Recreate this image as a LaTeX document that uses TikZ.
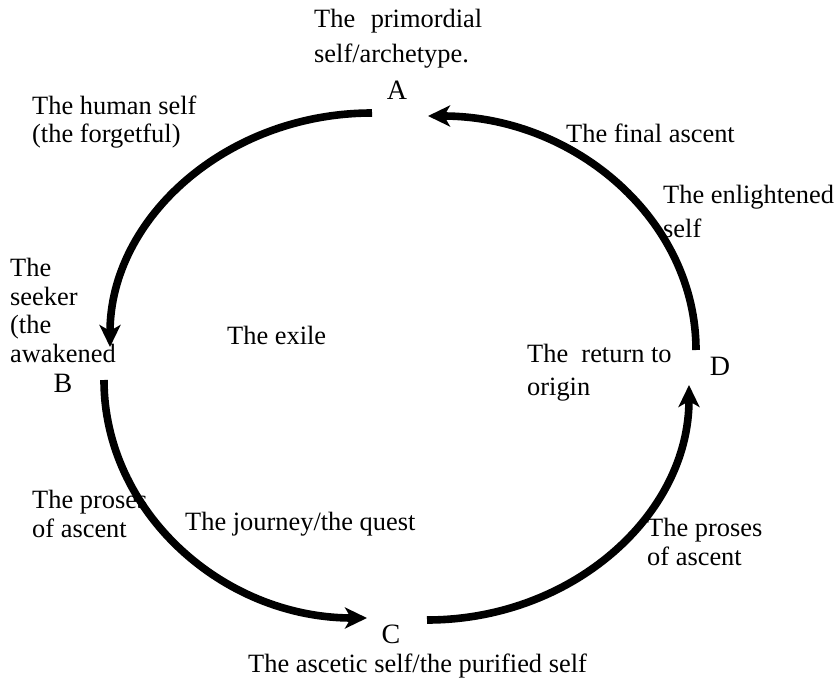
\documentclass[tikz,border=0pt]{standalone}
\usepackage{fontspec}
\setmainfont{Liberation Serif}
\usetikzlibrary{arrows.meta}
\begin{document}
\begin{tikzpicture}[x=1bp,y=-1bp,
  lbl/.style={inner sep=0pt, anchor=base west, align=left, font=\fontsize{26.4bp}{28.5bp}\selectfont},
  letter/.style={inner sep=0pt, anchor=base, font=\fontsize{28bp}{30bp}\selectfont},
  flow/.style={line width=7.6bp, -{Stealth[length=22bp,width=21bp,inset=6bp]}}]
\path[use as bounding box] (0,0) rectangle (837,680);
% labels (positioned at the baseline of their last line)
\node[lbl] (prim) at (314,63) {\makebox[168bp][s]{The primordial}\\[7bp]self/archetype.};
\node[lbl] (human) at (32,143) {The human self\\(the forgetful)};
\node[lbl] (seeker) at (10,362) {The\\seeker\\(the\\awakened};
\node[lbl] (exile) at (227,344) {The exile};
\node[lbl] (final) at (566,143) {The final ascent};
\node[lbl] (enl) at (663,237) {The enlightened\\[5.5bp]self};
\node[lbl] (ret) at (527,395) {The\ \ return to\\[4.5bp]origin};
\node[lbl] (prosR) at (647,565) {The proses\\of ascent};
\node[lbl] (prosL) at (32,537) {The proses\\of ascent};
\node[lbl] (journey) at (185,530) {The journey/the quest};
\node[lbl] (ascetic) at (248,672) {The ascetic self/the purified self};
% letters
\node[letter] (A) at (397,100) {A};
\node[letter] (B) at (63,392) {B};
\node[letter] (C) at (391,643) {C};
\node[letter] (D) at (720,375) {D};
% arc ends
\coordinate (a0) at (372,113);
\coordinate (b1) at (110,347);
\coordinate (b0) at (104,380);
\coordinate (c1) at (367,618);
\coordinate (c0) at (427,620);
\coordinate (d1) at (689,385);
\coordinate (d0) at (696,350);
\coordinate (a1) at (428,116);
% arcs
\draw[flow] (a0) .. controls (227,113) and (110,218) .. (b1);
\draw[flow] (b0) .. controls (104,511) and (222,618) .. (c1);
\draw[flow] (c0) .. controls (572,620) and (689,515) .. (d1);
\draw[flow] (d0) .. controls (696,221) and (576,116) .. (a1);
\end{tikzpicture}
\end{document}
